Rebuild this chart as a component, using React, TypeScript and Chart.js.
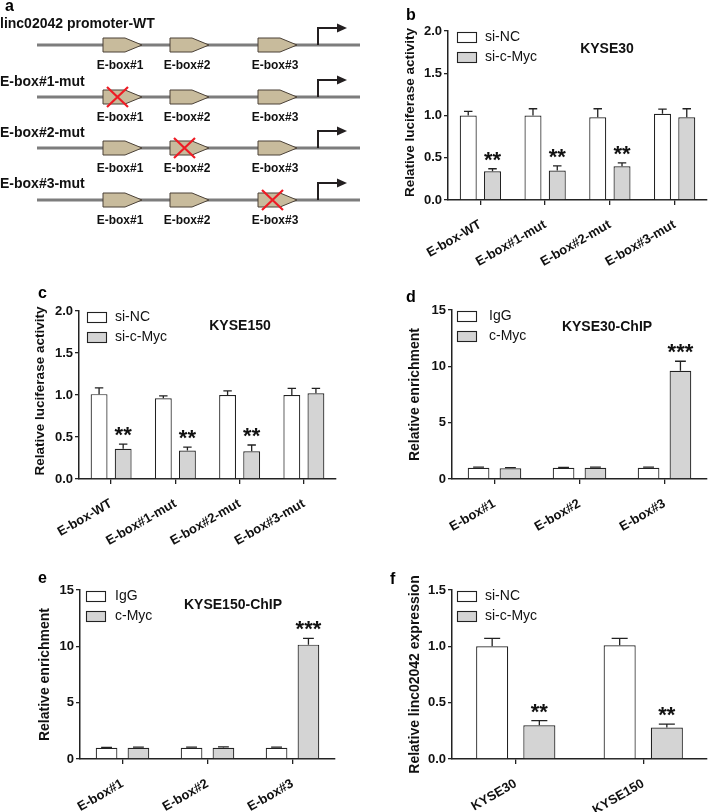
import React, { useEffect, useRef } from "react";
import { Chart, registerables } from "chart.js";

Chart.register(...registerables);

const FONT = "'Liberation Sans', Arial, Helvetica, sans-serif";
Chart.defaults.font.family = FONT;

// ---------- Panel a: promoter schematic ----------
const promoterRows = ["linc02042 promoter-WT", "E-box#1-mut", "E-box#2-mut", "E-box#3-mut"];
const mutatedBox = [-1, 0, 1, 2];
const eboxNames = ["E-box#1", "E-box#2", "E-box#3"];
const eboxStarts = [103, 170, 258];
const promoterStart = 37;
const promoterEnd = 363;
const tssPos = 318;
const rowLineY = [45, 97, 148, 200];
const rowTitleBaseline = [28, 86, 137, 188];

// ---------- Panel b: KYSE30 luciferase ----------
const lucCategories = ["E-box-WT", "E-box#1-mut", "E-box#2-mut", "E-box#3-mut"];
const siLegend = ["si-NC", "si-c-Myc"];
const kyse30LucSiNC = [1.0, 1.0, 0.98, 1.02];
const kyse30LucSiNCErr = [0.05, 0.08, 0.1, 0.055];
const kyse30LucSiMyc = [0.34, 0.35, 0.4, 0.98];
const kyse30LucSiMycErr = [0.03, 0.055, 0.04, 0.1];
const kyse30LucSig = ["**", "**", "**", ""];

// ---------- Panel c: KYSE150 luciferase ----------
const kyse150LucSiNC = [1.01, 0.96, 1.0, 1.0];
const kyse150LucSiNCErr = [0.075, 0.03, 0.05, 0.08];
const kyse150LucSiMyc = [0.36, 0.34, 0.33, 1.02];
const kyse150LucSiMycErr = [0.055, 0.04, 0.075, 0.06];
const kyse150LucSig = ["**", "**", "**", ""];

// ---------- Panel d / e: ChIP ----------
const chipCategories = ["E-box#1", "E-box#2", "E-box#3"];
const chipLegend = ["IgG", "c-Myc"];
const kyse30IgG = [1.0, 1.0, 1.0];
const kyse30IgGErr = [0.05, 0.03, 0.05];
const kyse30Myc = [0.95, 1.0, 9.6];
const kyse30MycErr = [0.06, 0.05, 0.85];
const kyse30ChipSig = ["", "", "***"];
const kyse150IgG = [1.0, 1.0, 1.0];
const kyse150IgGErr = [0.04, 0.06, 0.06];
const kyse150Myc = [1.0, 1.0, 10.15];
const kyse150MycErr = [0.05, 0.08, 0.55];
const kyse150ChipSig = ["", "", "***"];

// ---------- Panel f: expression ----------
const exprCategories = ["KYSE30", "KYSE150"];
const exprSiNC = [1.0, 1.01];
const exprSiNCErr = [0.07, 0.06];
const exprSiMyc = [0.3, 0.28];
const exprSiMycErr = [0.04, 0.03];
const exprSig = ["**", "**"];

const WHITE = "#ffffff";
const GRAY = "#d4d4d4";
const INK = "#222222";

type Series = { label: string; data: number[]; err: number[]; color: string };
type BarPanel = {
  key: string;
  box: { left: number; top: number; width: number; height: number };
  area: { left: number; top: number; bottom: number; right: number };
  labels: string[];
  series: Series[];
  sig: string[];
  yMax: number;
  yStep: number;
  decimals: number;
  yTitle: string;
  yTitleDx: number;
  yTitleDy: number;
  yTitleSize: number;
  title?: string;
  titleDx?: number;
  titleDy?: number;
  letter: string;
  letterX: number;
  letterY: number;
  legendDx: number;
  legendTextDx: number;
  catPct: number;
  barPct: number;
};

const panels: BarPanel[] = [
  {
    key: "b",
    box: { left: 360, top: 0, width: 348, height: 270 },
    area: { left: 88, top: 31, bottom: 200, right: 347 },
    labels: lucCategories,
    series: [
      { label: siLegend[0], data: kyse30LucSiNC, err: kyse30LucSiNCErr, color: WHITE },
      { label: siLegend[1], data: kyse30LucSiMyc, err: kyse30LucSiMycErr, color: GRAY },
    ],
    sig: kyse30LucSig,
    yMax: 2,
    yStep: 0.5,
    decimals: 1,
    yTitle: "Relative luciferase activity",
    yTitleDx: -38,
    yTitleDy: -3,
    yTitleSize: 13.5,
    title: "KYSE30",
    titleDx: 159,
    titleDy: 18,
    letter: "b",
    letterX: 46,
    letterY: 20,
    legendDx: 9,
    legendTextDx: 37,
    catPct: 0.75,
    barPct: 0.7,
  },
  {
    key: "c",
    box: { left: 0, top: 270, width: 360, height: 285 },
    area: { left: 79, top: 41, bottom: 209, right: 336 },
    labels: lucCategories,
    series: [
      { label: siLegend[0], data: kyse150LucSiNC, err: kyse150LucSiNCErr, color: WHITE },
      { label: siLegend[1], data: kyse150LucSiMyc, err: kyse150LucSiMycErr, color: GRAY },
    ],
    sig: kyse150LucSig,
    yMax: 2,
    yStep: 0.5,
    decimals: 1,
    yTitle: "Relative luciferase activity",
    yTitleDx: -39,
    yTitleDy: -4,
    yTitleSize: 13.5,
    title: "KYSE150",
    titleDx: 161,
    titleDy: 15,
    letter: "c",
    letterX: 38,
    letterY: 28,
    legendDx: 8,
    legendTextDx: 36,
    catPct: 0.75,
    barPct: 0.7,
  },
  {
    key: "d",
    box: { left: 360, top: 270, width: 348, height: 285 },
    area: { left: 92, top: 40, bottom: 209, right: 347 },
    labels: chipCategories,
    series: [
      { label: chipLegend[0], data: kyse30IgG, err: kyse30IgGErr, color: WHITE },
      { label: chipLegend[1], data: kyse30Myc, err: kyse30MycErr, color: GRAY },
    ],
    sig: kyse30ChipSig,
    yMax: 15,
    yStep: 5,
    decimals: 0,
    yTitle: "Relative enrichment",
    yTitleDx: -37,
    yTitleDy: 0,
    yTitleSize: 14,
    title: "KYSE30-ChIP",
    titleDx: 155,
    titleDy: 17,
    letter: "d",
    letterX: 46,
    letterY: 32,
    legendDx: 5,
    legendTextDx: 37,
    catPct: 0.75,
    barPct: 0.68,
  },
  {
    key: "e",
    box: { left: 0, top: 530, width: 360, height: 282 },
    area: { left: 80, top: 60, bottom: 229, right: 335 },
    labels: chipCategories,
    series: [
      { label: chipLegend[0], data: kyse150IgG, err: kyse150IgGErr, color: WHITE },
      { label: chipLegend[1], data: kyse150Myc, err: kyse150MycErr, color: GRAY },
    ],
    sig: kyse150ChipSig,
    yMax: 15,
    yStep: 5,
    decimals: 0,
    yTitle: "Relative enrichment",
    yTitleDx: -35,
    yTitleDy: 0,
    yTitleSize: 14,
    title: "KYSE150-ChIP",
    titleDx: 153,
    titleDy: 15,
    letter: "e",
    letterX: 38,
    letterY: 53,
    legendDx: 6,
    legendTextDx: 35,
    catPct: 0.75,
    barPct: 0.68,
  },
  {
    key: "f",
    box: { left: 360, top: 530, width: 348, height: 282 },
    area: { left: 92, top: 60, bottom: 229, right: 347 },
    labels: exprCategories,
    series: [
      { label: siLegend[0], data: exprSiNC, err: exprSiNCErr, color: WHITE },
      { label: siLegend[1], data: exprSiMyc, err: exprSiMycErr, color: GRAY },
    ],
    sig: exprSig,
    yMax: 1.5,
    yStep: 0.5,
    decimals: 1,
    yTitle: "Relative linc02042 expression",
    yTitleDx: -37,
    yTitleDy: 0,
    yTitleSize: 14,
    letter: "f",
    letterX: 30,
    letterY: 54,
    legendDx: 5,
    legendTextDx: 33,
    catPct: 0.74,
    barPct: 0.68,
  },
];

function makeBarConfig(p: BarPanel): any {
  const decor = {
    id: "decor_" + p.key,
    afterDatasetsDraw(chart: any) {
      const { ctx } = chart;
      const y = chart.scales.y;
      ctx.save();
      p.series.forEach((s, i) => {
        const meta = chart.getDatasetMeta(i);
        meta.data.forEach((bar: any, j: number) => {
          const top = y.getPixelForValue(s.data[j] + s.err[j]);
          const w = bar.width;
          ctx.strokeStyle = INK;
          ctx.lineWidth = 1.3;
          ctx.beginPath();
          ctx.moveTo(bar.x, bar.y);
          ctx.lineTo(bar.x, top);
          ctx.moveTo(bar.x - w / 4, top);
          ctx.lineTo(bar.x + w / 4, top);
          ctx.stroke();
          if (i === 1 && p.sig[j]) {
            ctx.fillStyle = "#111";
            ctx.font = `bold 22px ${FONT}`;
            ctx.textAlign = "center";
            ctx.textBaseline = "alphabetic";
            ctx.fillText(p.sig[j], bar.x, top - 2);
          }
        });
      });
      ctx.restore();
    },
    afterDraw(chart: any) {
      const { ctx, chartArea: ca } = chart;
      ctx.save();
      // legend
      p.series.forEach((s, i) => {
        const bx = ca.left + p.legendDx;
        const by = ca.top + 1 + i * 20;
        ctx.fillStyle = s.color;
        ctx.fillRect(bx, by, 19, 10);
        ctx.strokeStyle = INK;
        ctx.lineWidth = 1.1;
        ctx.strokeRect(bx + 0.5, by + 0.5, 19, 10);
        ctx.fillStyle = "#111";
        ctx.font = `14px ${FONT}`;
        ctx.textAlign = "left";
        ctx.textBaseline = "middle";
        ctx.fillText(s.label, ca.left + p.legendTextDx, by + 5.5);
      });
      // title
      if (p.title) {
        ctx.font = `bold 14px ${FONT}`;
        ctx.textAlign = "center";
        ctx.textBaseline = "middle";
        ctx.fillStyle = "#111";
        ctx.fillText(p.title, ca.left + (p.titleDx || 0), ca.top + (p.titleDy || 0));
      }
      // y title
      ctx.save();
      ctx.translate(ca.left + p.yTitleDx, (ca.top + ca.bottom) / 2 + p.yTitleDy);
      ctx.rotate(-Math.PI / 2);
      ctx.font = `bold ${p.yTitleSize}px ${FONT}`;
      ctx.textAlign = "center";
      ctx.textBaseline = "middle";
      ctx.fillStyle = "#111";
      ctx.fillText(p.yTitle, 0, 0);
      ctx.restore();
      // panel letter
      ctx.font = `bold 16px ${FONT}`;
      ctx.textAlign = "left";
      ctx.textBaseline = "alphabetic";
      ctx.fillStyle = "#000";
      ctx.fillText(p.letter, p.letterX, p.letterY);
      ctx.restore();
    },
  };

  return {
    type: "bar",
    data: {
      labels: p.labels,
      datasets: p.series.map((s) => ({
        label: s.label,
        data: s.data,
        backgroundColor: s.color,
        borderColor: INK,
        borderWidth: 1.2,
        categoryPercentage: p.catPct,
        barPercentage: p.barPct,
      })),
    },
    options: {
      responsive: false,
      animation: false,
      devicePixelRatio: 1,
      layout: {
        padding: { top: p.area.top, right: p.box.width - p.area.right, left: 0, bottom: 0 },
      },
      plugins: {
        legend: { display: false },
        tooltip: { enabled: false },
        title: { display: false },
      },
      scales: {
        x: {
          grid: {
            display: true,
            drawOnChartArea: false,
            drawTicks: true,
            tickLength: 5,
            offset: false,
            color: INK,
            lineWidth: 1.3,
          },
          border: { display: true, color: INK, width: 1.5 },
          ticks: {
            autoSkip: false,
            minRotation: 30,
            maxRotation: 30,
            padding: 12,
            color: "#111",
            font: { family: FONT, size: 13, weight: "bold" },
          },
          afterFit: (s: any) => {
            s.height = p.box.height - p.area.bottom;
          },
        },
        y: {
          min: 0,
          max: p.yMax,
          grid: {
            display: true,
            drawOnChartArea: false,
            drawTicks: true,
            tickLength: 4,
            color: INK,
            lineWidth: 1.3,
          },
          border: { display: true, color: INK, width: 1.5 },
          ticks: {
            stepSize: p.yStep,
            padding: 2,
            color: "#111",
            font: { family: FONT, size: 13, weight: "bold" },
            callback: (v: any) => Number(v).toFixed(p.decimals),
          },
          afterFit: (s: any) => {
            s.width = p.area.left;
          },
        },
      },
    },
    plugins: [decor],
  };
}

function makeSchematicConfig(): any {
  const decor = {
    id: "schematic",
    afterDatasetsDraw(chart: any) {
      const { ctx } = chart;
      const xs = chart.scales.x;
      const ys = chart.scales.y;
      const px = (v: number) => xs.getPixelForValue(v);
      const py = (v: number) => ys.getPixelForValue(v);
      ctx.save();
      // letter
      ctx.font = `bold 16px ${FONT}`;
      ctx.fillStyle = "#000";
      ctx.textAlign = "left";
      ctx.textBaseline = "alphabetic";
      ctx.fillText("a", px(5), py(11));

      promoterRows.forEach((title, r) => {
        const ly = py(rowLineY[r]);
        ctx.font = `bold 14px ${FONT}`;
        ctx.fillStyle = "#111";
        ctx.textAlign = "left";
        ctx.textBaseline = "alphabetic";
        ctx.fillText(title, px(0), py(rowTitleBaseline[r]));

        eboxStarts.forEach((s, k) => {
          const x0 = px(s);
          const x1 = px(s + 22);
          const x2 = px(s + 39);
          ctx.beginPath();
          ctx.moveTo(x0, ly - 7);
          ctx.lineTo(x1, ly - 7);
          ctx.lineTo(x2, ly);
          ctx.lineTo(x1, ly + 7);
          ctx.lineTo(x0, ly + 7);
          ctx.closePath();
          ctx.fillStyle = "#c8bb9c";
          ctx.fill();
          ctx.strokeStyle = "#4a4036";
          ctx.lineWidth = 1;
          ctx.stroke();

          ctx.font = `bold 12px ${FONT}`;
          ctx.fillStyle = "#111";
          ctx.textAlign = "center";
          ctx.fillText(eboxNames[k], px(s + 17), ly + 24);

          if (mutatedBox[r] === k) {
            const cx = px(s + 14.5);
            ctx.strokeStyle = "#ee1c25";
            ctx.lineWidth = 2.2;
            ctx.beginPath();
            ctx.moveTo(cx - 10.5, ly - 10);
            ctx.lineTo(cx + 10.5, ly + 10);
            ctx.moveTo(cx + 10.5, ly - 10);
            ctx.lineTo(cx - 10.5, ly + 10);
            ctx.stroke();
          }
        });

        // TSS arrow
        const tx = px(tssPos);
        const ty = ly - 17;
        ctx.strokeStyle = "#231f20";
        ctx.lineWidth = 2;
        ctx.beginPath();
        ctx.moveTo(tx, ly);
        ctx.lineTo(tx, ty);
        ctx.lineTo(px(tssPos + 21), ty);
        ctx.stroke();
        ctx.fillStyle = "#231f20";
        ctx.beginPath();
        ctx.moveTo(px(tssPos + 29), ty);
        ctx.lineTo(px(tssPos + 19), ty - 4.5);
        ctx.lineTo(px(tssPos + 19), ty + 4.5);
        ctx.closePath();
        ctx.fill();
      });
      ctx.restore();
    },
  };

  return {
    type: "scatter",
    data: {
      datasets: rowLineY.map((yv) => ({
        data: [
          { x: promoterStart, y: yv },
          { x: promoterEnd, y: yv },
        ],
        showLine: true,
        borderColor: "#7d7d7d",
        borderWidth: 3,
        pointRadius: 0,
      })),
    },
    options: {
      responsive: false,
      animation: false,
      devicePixelRatio: 1,
      layout: { padding: 0 },
      plugins: { legend: { display: false }, tooltip: { enabled: false } },
      scales: {
        x: { type: "linear", min: 0, max: 360, display: false },
        y: { type: "linear", min: 0, max: 260, reverse: true, display: false },
      },
    },
    plugins: [decor],
  };
}

function ChartCanvas({ config, box }: { config: () => any; box: { left: number; top: number; width: number; height: number } }) {
  const ref = useRef<HTMLCanvasElement | null>(null);
  useEffect(() => {
    if (!ref.current) return;
    const chart = new Chart(ref.current, config());
    return () => chart.destroy();
  }, []);
  return (
    <canvas
      ref={ref}
      width={box.width}
      height={box.height}
      style={{ position: "absolute", left: box.left, top: box.top, width: box.width, height: box.height }}
    />
  );
}

export default function App() {
  return (
    <div style={{ position: "absolute", left: 0, top: 0, width: 708, height: 812, background: "#fff", overflow: "hidden" }}>
      <ChartCanvas config={makeSchematicConfig} box={{ left: 0, top: 0, width: 360, height: 260 }} />
      {panels.map((p) => (
        <ChartCanvas key={p.key} config={() => makeBarConfig(p)} box={p.box} />
      ))}
    </div>
  );
}
